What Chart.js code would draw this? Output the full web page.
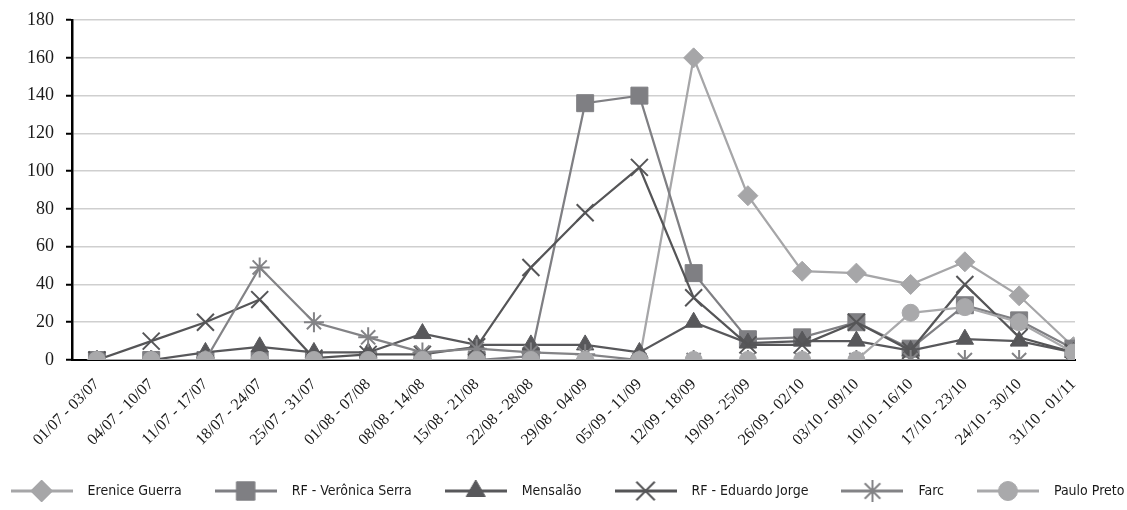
<!DOCTYPE html>
<html>
<head>
<meta charset="utf-8">
<script src="https://cdn.jsdelivr.net/npm/chart.js@4.4.1/dist/chart.umd.min.js"></script>
<style>
  html, body { margin: 0; padding: 0; background: #fff; }
  #caixa { width: 1127px; height: 510px; }
</style>
</head>
<body>
<div id="caixa"><canvas id="grafico"></canvas></div>
<script>
'use strict';

// semanas (eixo x)
const semanas = [
    '01/07 - 03/07', '04/07 - 10/07', '11/07 - 17/07', '18/07 - 24/07', '25/07 - 31/07',
    '01/08 - 07/08', '08/08 - 14/08', '15/08 - 21/08', '22/08 - 28/08', '29/08 - 04/09',
    '05/09 - 11/09', '12/09 - 18/09', '19/09 - 25/09', '26/09 - 02/10', '03/10 - 09/10',
    '10/10 - 16/10', '17/10 - 23/10', '24/10 - 30/10', '31/10 - 01/11'
];

const ereniceGuerra   = [0, 0, 0, 0, 0, 0, 0, 0, 0, 0, 0, 160, 87, 47, 46, 40, 52, 34, 7];
const veronicaSerra   = [0, 0, 0, 0, 0, 0, 0, 0, 2, 136, 140, 46, 11, 12, 20, 6, 29, 21, 6];
const mensalao        = [0, 0, 4, 7, 4, 4, 14, 8, 8, 8, 4, 20, 9, 10, 10, 5, 11, 10, 4];
const eduardoJorge    = [0, 10, 20, 32, 1, 3, 3, 7, 49, 78, 102, 33, 8, 8, 20, 5, 40, 12, 4];
const farc            = [0, 0, 0, 49, 20, 12, 4, 6, 4, 3, 0, 0, 0, 0, 0, 0, 0, 0, 0];
const pauloPreto      = [0, 0, 0, 0, 0, 0, 0, 0, 0, 0, 0, 0, 0, 0, 0, 25, 28, 20, 4];

const ticksY = [0, 20, 40, 60, 80, 100, 120, 140, 160, 180];

const fonteEixo = '"Liberation Serif", "DejaVu Serif", serif';
const fonteLegenda = '"DejaVu Sans Condensed", "Liberation Sans", sans-serif';

const series = [
    { nome: 'Erenice Guerra',      dados: ereniceGuerra, cor: '#a6a6a8', estilo: 'rectRot',  raio: 10,  borda: 1 },
    { nome: 'RF - Verônica Serra', dados: veronicaSerra, cor: '#7f7f83', estilo: 'rect',     raio: 12,  borda: 1 },
    { nome: 'Mensalão',            dados: mensalao,      cor: '#58585b', estilo: 'triangle', raio: 10,  borda: 1 },
    { nome: 'RF - Eduardo Jorge',  dados: eduardoJorge,  cor: '#555557', estilo: 'crossRot', raio: 12,  borda: 2 },
    { nome: 'Farc',                dados: farc,          cor: '#838386', estilo: 'star',     raio: 10,  borda: 2 },
    { nome: 'Paulo Preto',         dados: pauloPreto,    cor: '#a9a9ab', estilo: 'circle',   raio: 8.5, borda: 1 }
];

// marcador da legenda: linha com o simbolo no meio
const marcaLegenda = (s) => {
    const c = document.createElement('canvas');
    c.width = 62;
    c.height = 26;
    const ctx = c.getContext('2d');
    ctx.strokeStyle = s.cor;
    ctx.fillStyle = s.cor;
    ctx.lineWidth = 3;
    ctx.beginPath();
    ctx.moveTo(0, 13);
    ctx.lineTo(62, 13);
    ctx.stroke();
    ctx.lineWidth = s.borda;
    Chart.helpers.drawPoint(ctx, { pointStyle: s.estilo, radius: s.raio + 1, borderWidth: s.borda, rotation: 0 }, 31, 13);
    return c;
};

const marcas = series.map(marcaLegenda);

const datasets = series.map((s, i) => ({
    label: s.nome,
    data: s.dados.map((v, j) => ({ x: j, y: v })),
    borderColor: s.cor,
    backgroundColor: s.cor,
    borderWidth: 2.25,
    pointStyle: s.estilo,
    pointRadius: s.raio,
    pointBorderWidth: s.borda,
    pointBorderColor: s.cor,
    pointBackgroundColor: s.cor,
    tension: 0,
    order: series.length - i
}));

new Chart(document.getElementById('grafico'), {
    type: 'line',
    data: { datasets: datasets },
    options: {
        responsive: true,
        maintainAspectRatio: false,
        animation: false,
        // laterais negativas: a legenda fica larga o bastante para uma linha so
        layout: { padding: { top: 19, left: -30, right: -30, bottom: 2 } },
        plugins: {
            tooltip: { enabled: false },
            legend: {
                position: 'bottom',
                labels: {
                    usePointStyle: true,
                    pointStyleWidth: 78,
                    padding: 25,
                    color: '#1a1a1a',
                    font: { family: fonteLegenda, size: 14 },
                    generateLabels: (chart) => chart.data.datasets.map((ds, i) => ({
                        text: ds.label,
                        pointStyle: marcas[i],
                        fillStyle: ds.backgroundColor,
                        strokeStyle: ds.borderColor,
                        lineWidth: 0,
                        hidden: false,
                        datasetIndex: i,
                        fontColor: '#1a1a1a'
                    }))
                }
            }
        },
        scales: {
            x: {
                type: 'linear',
                min: -0.46,
                max: 18.03,
                afterBuildTicks: (escala) => {
                    escala.ticks = semanas.map((_, i) => ({ value: i }));
                },
                afterFit: (escala) => { escala.height = 99; },
                ticks: {
                    autoSkip: false,
                    minRotation: 45,
                    maxRotation: 45,
                    padding: 15,
                    color: '#1a1a1a',
                    font: { family: fonteEixo, size: 16 },
                    callback: (valor) => semanas[valor]
                },
                grid: { display: false, drawTicks: false },
                border: { display: true, color: '#000', width: 2 }
            },
            y: {
                min: 0,
                max: 180,
                afterBuildTicks: (escala) => {
                    escala.ticks = ticksY.map((v) => ({ value: v }));
                },
                afterFit: (escala) => { escala.width = 102; },
                ticks: {
                    padding: 12,
                    color: '#1a1a1a',
                    font: { family: fonteEixo, size: 18, lineHeight: 0.9 }
                },
                grid: {
                    color: '#cfcfcf',
                    lineWidth: 1.5,
                    tickColor: '#000',
                    tickLength: 6,
                    tickWidth: 2
                },
                border: { color: '#000', width: 2.5 }
            },
            direita: {
                type: 'linear',
                position: 'right',
                display: true,
                afterFit: (escala) => { escala.width = 82; },
                ticks: { display: false },
                grid: { display: false, drawTicks: false },
                border: { display: false }
            }
        }
    }
});
</script>
</body>
</html>
